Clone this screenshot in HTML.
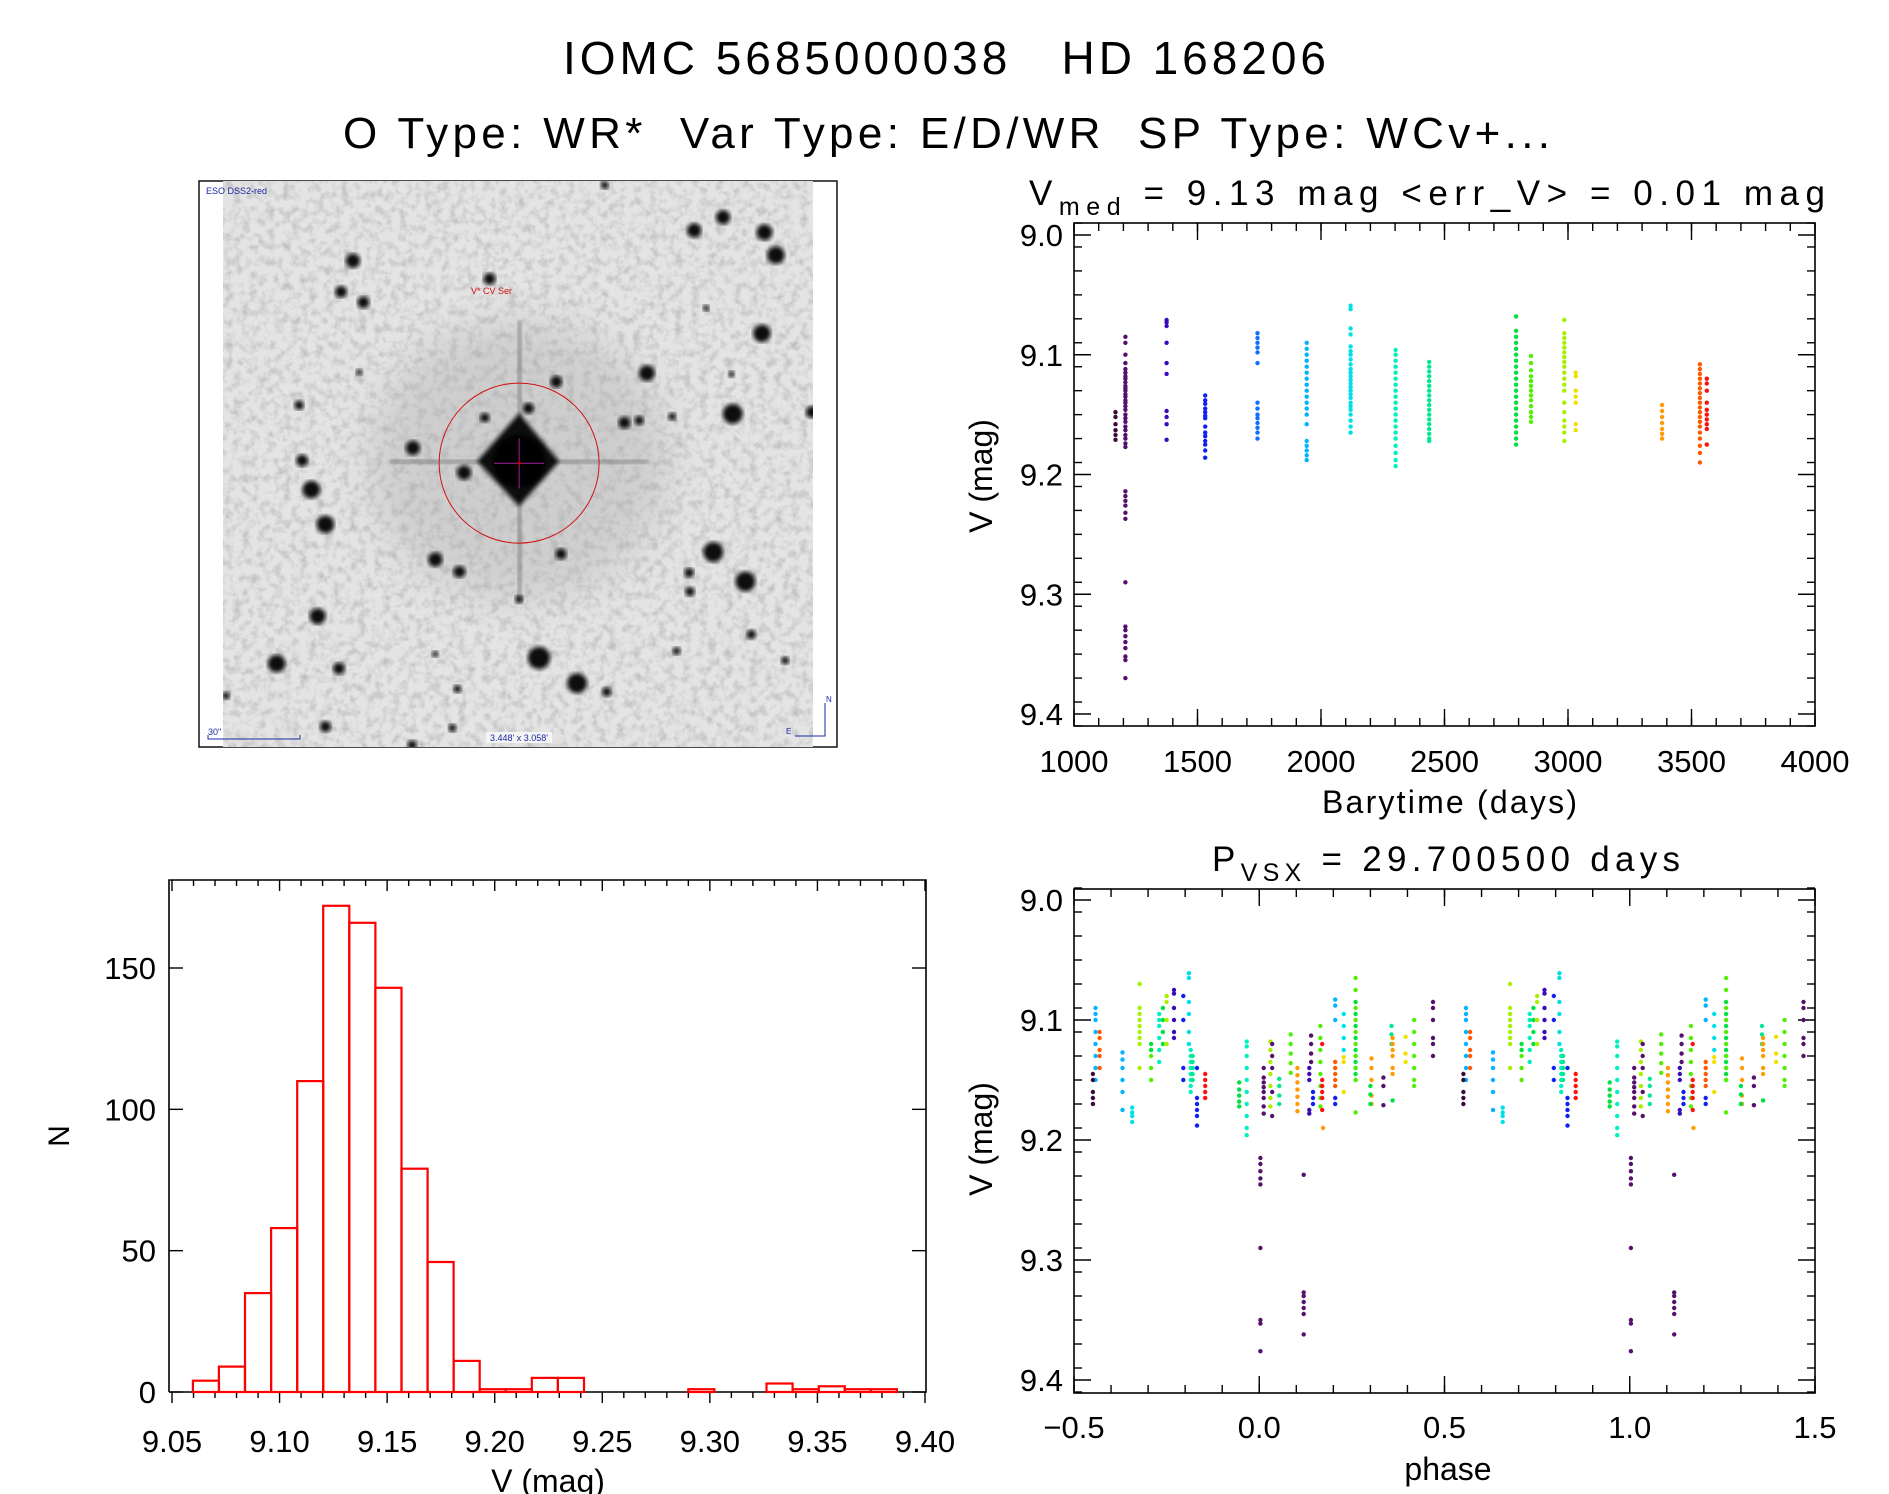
<!DOCTYPE html>
<html><head><meta charset="utf-8"><style>
html,body{margin:0;padding:0;background:#fff;}
svg{display:block;font-family:"Liberation Sans",sans-serif;}
text{white-space:pre;}
</style></head><body>
<svg id="fig" width="1889" height="1494" viewBox="0 0 1889 1494" xmlns="http://www.w3.org/2000/svg" xml:space="preserve">
<defs>
<filter id="blur2"><feGaussianBlur stdDeviation="2.2"/></filter>
<filter id="blur8"><feGaussianBlur stdDeviation="20"/></filter>
<filter id="grain"><feTurbulence type="fractalNoise" baseFrequency="0.12" numOctaves="3" seed="4"/><feColorMatrix type="matrix" values="0 0 0 0 0  0 0 0 0 0  0 0 0 0 0  0 0 0 -1.4 0.8"/></filter>
<clipPath id="imgclip"><rect x="223" y="181" width="590" height="566"/></clipPath>
</defs>
<text x="563" y="74" font-size="46" textLength="763" lengthAdjust="spacing">IOMC 5685000038   HD 168206</text>
<text x="343" y="148" font-size="44" textLength="1207" lengthAdjust="spacing">O Type: WR*  Var Type: E/D/WR  SP Type: WCv+...</text>
<g id="img"></g>
<g id="lc"></g>
<g id="hist"></g>
<g id="ph"></g>
</svg>
<script>
// ---------- light curve data ----------
const lcTimes = [1168,1208,1375,1531,1743,1942,2120,2302,2438,2790,2850,2985,3031,3381,3534,3562];
const lcMags = [
[9.148,9.152,9.158,9.163,9.167,9.171],
[9.085,9.09,9.1,9.107,9.112,9.115,9.118,9.12,9.123,9.126,9.128,9.13,9.133,9.135,9.138,9.14,9.143,9.146,9.15,9.153,9.156,9.16,9.163,9.167,9.17,9.174,9.177,9.214,9.218,9.222,9.226,9.232,9.237,9.29,9.327,9.33,9.335,9.34,9.345,9.352,9.355,9.37],
[9.071,9.073,9.076,9.09,9.107,9.116,9.147,9.152,9.158,9.171],
[9.134,9.138,9.141,9.145,9.148,9.151,9.153,9.16,9.165,9.168,9.172,9.175,9.18,9.186],
[9.082,9.086,9.09,9.094,9.098,9.107,9.14,9.145,9.15,9.153,9.157,9.161,9.165,9.17],
[9.09,9.095,9.1,9.105,9.11,9.115,9.12,9.125,9.13,9.135,9.14,9.145,9.15,9.158,9.172,9.176,9.18,9.184,9.188],
[9.059,9.062,9.078,9.083,9.093,9.097,9.1,9.104,9.108,9.112,9.115,9.118,9.121,9.124,9.127,9.13,9.133,9.136,9.14,9.143,9.146,9.15,9.155,9.16,9.165],
[9.096,9.1,9.105,9.11,9.115,9.12,9.125,9.13,9.135,9.14,9.145,9.15,9.155,9.16,9.165,9.17,9.176,9.182,9.188,9.193],
[9.106,9.11,9.114,9.118,9.122,9.126,9.13,9.134,9.138,9.142,9.146,9.15,9.154,9.158,9.162,9.166,9.17,9.172],
[9.068,9.08,9.085,9.09,9.095,9.1,9.105,9.11,9.115,9.12,9.125,9.13,9.135,9.14,9.145,9.15,9.155,9.16,9.165,9.17,9.175],
[9.101,9.107,9.113,9.118,9.122,9.126,9.13,9.134,9.138,9.143,9.148,9.152,9.156],
[9.071,9.082,9.086,9.09,9.094,9.098,9.102,9.106,9.11,9.115,9.12,9.125,9.13,9.14,9.148,9.155,9.16,9.165,9.172],
[9.115,9.118,9.13,9.135,9.14,9.158,9.163],
[9.142,9.147,9.152,9.157,9.162,9.166,9.17],
[9.108,9.112,9.116,9.12,9.124,9.128,9.132,9.136,9.14,9.144,9.148,9.152,9.156,9.16,9.165,9.17,9.176,9.182,9.19],
[9.12,9.124,9.13,9.14,9.146,9.15,9.154,9.158,9.162,9.175]
];
const lcColorIdx = [0,1,2,3,4,5,6,7,8,9,10,11,12,13,14,15];
const palette = ['#3a0a3a','#55106e','#3a0ab8','#1020f0','#1070ff','#00b4ff','#00e0e8','#00f0c0','#00e890','#00e040','#50f000','#a8f000','#f0e000','#ff9a00','#ff5a00','#ff1010'];
const lcXTicks = [1000,1500,2000,2500,3000,3500,4000];
const magTicks = [9.0,9.1,9.2,9.3,9.4];
const magTickLabels = ['9.0','9.1','9.2','9.3','9.4'];

// ---------- histogram data ----------
const histStart = 9.0597;
const histWidth = 0.01212;
const histCounts = [4,9,35,58,110,172,166,143,79,46,11,1,1,5,5,0,0,0,0,1,0,0,3,1,2,1,1];
const histXTicks = [9.05,9.10,9.15,9.20,9.25,9.30,9.35,9.40];
const histXTickLabels = ['9.05','9.10','9.15','9.20','9.25','9.30','9.35','9.40'];
const histYTicks = [0,50,100,150];

// ---------- phase data ----------
const phPhases = [0.003,0.012,0.966,0.946,0.03,0.035,0.054,0.085,0.103,0.12,0.135,0.14,0.145,0.165,0.17,0.172,0.205,0.205,0.205,0.228,0.228,0.26,0.26,0.303,0.3,0.335,0.357,0.36,0.36,0.395,0.418,0.469,0.558,0.569,0.551,0.631,0.657,0.677,0.708,0.708,0.73,0.74,0.75,0.77,0.795,0.81,0.815,0.82,0.832,0.854];
const phColorIdx = [1,1,7,9,11,1,8,10,13,1,2,1,3,10,15,13,5,14,3,6,12,9,10,13,9,1,8,13,9,12,10,1,5,14,0,5,6,11,10,9,7,9,11,2,3,6,7,8,3,15];
const phMags = [
[9.215,9.22,9.226,9.232,9.237,9.29,9.35,9.353,9.376],
[9.14,9.148,9.152,9.156,9.16,9.165,9.172,9.178],
[9.118,9.122,9.13,9.14,9.15,9.16,9.17,9.18,9.19,9.196],
[9.152,9.158,9.163,9.168,9.172],
[9.118,9.125,9.135,9.145,9.155,9.165,9.172],
[9.12,9.13,9.14,9.16,9.18],
[9.149,9.155,9.163,9.17],
[9.112,9.12,9.128,9.136,9.144],
[9.14,9.146,9.152,9.158,9.164,9.17,9.176],
[9.229,9.327,9.33,9.335,9.34,9.345,9.362],
[9.14,9.145,9.15,9.175,9.178],
[9.113,9.12,9.128,9.135],
[9.16,9.165,9.17],
[9.105,9.115,9.125,9.135,9.145,9.155,9.165,9.172],
[9.12,9.15,9.155,9.16,9.165,9.175],
[9.19],
[9.083,9.088,9.1],
[9.135,9.14,9.145,9.15,9.155],
[9.165,9.17],
[9.095,9.105,9.115,9.125],
[9.131,9.135,9.16],
[9.085,9.095,9.105,9.115,9.125,9.13,9.135,9.14,9.145,9.15],
[9.065,9.075,9.09,9.1,9.11,9.12,9.13,9.14,9.15,9.177],
[9.132,9.14,9.15,9.163,9.17],
[9.155,9.162,9.17],
[9.148,9.155,9.171],
[9.105,9.112,9.12],
[9.115,9.12,9.125,9.13,9.14,9.145],
[9.167],
[9.114,9.128,9.135],
[9.1,9.11,9.12,9.13,9.14,9.15,9.155],
[9.085,9.09,9.1,9.115,9.12,9.13],
[9.09,9.095,9.1,9.11,9.12,9.13,9.14,9.15],
[9.11,9.115,9.125,9.13,9.14],
[9.145,9.15,9.16,9.165,9.17],
[9.127,9.133,9.14,9.15,9.16,9.175],
[9.173,9.177,9.18,9.185],
[9.07,9.09,9.095,9.1,9.105,9.11,9.115,9.12,9.14],
[9.125,9.13,9.14,9.15],
[9.12,9.125],
[9.095,9.1,9.105,9.115,9.125,9.135],
[9.09,9.1,9.11,9.12],
[9.08,9.085,9.1,9.12],
[9.075,9.078,9.09,9.1,9.11,9.115],
[9.08,9.1,9.14,9.15],
[9.061,9.065,9.085,9.095,9.11,9.12],
[9.125,9.13,9.135,9.14,9.145,9.15,9.155,9.16],
[9.13,9.135,9.14,9.145,9.15],
[9.14,9.165,9.17,9.175,9.18,9.188],
[9.145,9.15,9.155,9.16,9.165]
];
const phXTicks = [-0.5,0.0,0.5,1.0,1.5];
const phXTickLabels = ['\u22120.5','0.0','0.5','1.0','1.5'];

const NS='http://www.w3.org/2000/svg';
function mk(parent, tag, attrs, txt){
  const e=document.createElementNS(NS,tag);
  for(const k in attrs) e.setAttribute(k,attrs[k]);
  if(txt!==undefined) e.textContent=txt;
  parent.appendChild(e); return e;
}
function lin(d0,d1,r0,r1){return v=>r0+(v-d0)*(r1-r0)/(d1-d0);}

function frame(g,x0,x1,y0,y1,name){
  const r=mk(g,'rect',{x:x0,y:y0,width:x1-x0,height:y1-y0,fill:'none',stroke:'#000','stroke-width':1.6});
  
  
}
function ticks(g,orient,pos,from,to,step,len,a,b){
  const n=Math.round((to-from)/step);
  for(let i=0;i<=n;i++){
    const v=from+i*step, p=pos(v);
    if(orient==='x'){
      mk(g,'line',{x1:p,x2:p,y1:a,y2:a+len,stroke:'#000','stroke-width':1.4});
      mk(g,'line',{x1:p,x2:p,y1:b,y2:b-len,stroke:'#000','stroke-width':1.4});
    } else {
      mk(g,'line',{y1:p,y2:p,x1:a,x2:a+len,stroke:'#000','stroke-width':1.4});
      mk(g,'line',{y1:p,y2:p,x1:b,x2:b-len,stroke:'#000','stroke-width':1.4});
    }
  }
}
function dot(g,x,y,c){
  const d=mk(g,'circle',{cx:x.toFixed(1),cy:y.toFixed(1),r:2.2,fill:c});
  
  
}

// ================= light curve =================
(function(){
  const g=document.getElementById('lc');
  const X0=1074,X1=1815,Y0=223,Y1=726;
  const xs=lin(1000,4000,X0,X1), ys=lin(9.0,9.4,235,714);
  frame(g,X0,X1,Y0,Y1,'light-curve-frame');
  ticks(g,'x',xs,1000,4000,500,17,Y0,Y1);
  ticks(g,'x',xs,1000,4000,100,8,Y0,Y1);
  ticks(g,'y',ys,8.99,9.41,0.02,8,X0,X1);
  ticks(g,'y',ys,9.0,9.4,0.1,17,X0,X1);
  lcXTicks.forEach(t=>{
    const e=mk(g,'text',{x:xs(t),y:772,'font-size':31,'text-anchor':'middle'},String(t));
    
    
  });
  magTicks.forEach((t,i)=>{
    const e=mk(g,'text',{x:1063,y:ys(t)+11,'font-size':31,'text-anchor':'end'},magTickLabels[i]);
    
    
  });
  lcTimes.forEach((t,i)=>{
    lcMags[i].forEach(m=>dot(g,xs(t),ys(m),palette[lcColorIdx[i]]));
  });
  const tl=mk(g,'text',{x:1029,y:205,'font-size':35,textLength:796,lengthAdjust:'spacing'});
  tl.innerHTML='V<tspan font-size="25" dy="10">med</tspan><tspan dy="-10"> = 9.13 mag &lt;err_V&gt; = 0.01 mag</tspan>';
  
  
  const xt=mk(g,'text',{x:1322,y:813,'font-size':32,textLength:255,lengthAdjust:'spacing'},'Barytime (days)');
  
  
  const yt=mk(g,'text',{x:0,y:0,'font-size':32,'text-anchor':'middle',transform:'translate(992,476) rotate(-90)'},'V (mag)');
  
  
})();

// ================= histogram =================
(function(){
  const g=document.getElementById('hist');
  const X0=169,X1=926,Y0=880,Y1=1392;
  const xs=lin(9.05,9.40,172,925), ys=lin(0,150,1392,968);
  const ax=mk(g,'path',{d:`M${X0},${Y1} L${X0},${Y0} L${X1},${Y0} L${X1},${Y1} L${X0},${Y1}`,fill:'none',stroke:'#000','stroke-width':1.6});
  
  
  for(let i=0;i<=35;i++){
    const v=9.05+i*0.01, p=xs(v), maj=i%5===0;
    mk(g,'line',{x1:p,x2:p,y1:Y1,y2:Y1+(maj?11:6),stroke:'#000','stroke-width':1.4});
    mk(g,'line',{x1:p,x2:p,y1:Y0,y2:Y0+(maj?11:6),stroke:'#000','stroke-width':1.4});
  }
  histYTicks.forEach(t=>{
    const p=ys(t);
    mk(g,'line',{x1:X0,x2:X0+14,y1:p,y2:p,stroke:'#000','stroke-width':1.4});
    mk(g,'line',{x1:X1,x2:X1-14,y1:p,y2:p,stroke:'#000','stroke-width':1.4});
    const e=mk(g,'text',{x:156,y:p+11,'font-size':31,'text-anchor':'end'},String(t));
    
    
  });
  histXTicks.forEach((t,i)=>{
    const e=mk(g,'text',{x:xs(t),y:1452,'font-size':31,'text-anchor':'middle'},histXTickLabels[i]);
    
    
  });
  histCounts.forEach((c,i)=>{
    const a=xs(histStart+i*histWidth), b=xs(histStart+(i+1)*histWidth);
    const r=mk(g,'rect',{x:a.toFixed(1),y:ys(c).toFixed(1),width:(b-a).toFixed(1),height:(ys(0)-ys(c)).toFixed(1),fill:'none',stroke:'#ff0000','stroke-width':2.2});
    
    
  });
  const xt=mk(g,'text',{x:548,y:1492,'font-size':32,'text-anchor':'middle'},'V (mag)');
  
  
  const yt=mk(g,'text',{x:0,y:0,'font-size':30,'text-anchor':'middle',transform:'translate(69,1136) rotate(-90)'},'N');
  
  
})();

// ================= phase =================
(function(){
  const g=document.getElementById('ph');
  const X0=1074,X1=1815,Y0=889,Y1=1393;
  const xs=lin(-0.5,1.5,X0,X1), ys=lin(9.0,9.4,900,1380);
  frame(g,X0,X1,Y0,Y1,'phase-frame');
  ticks(g,'x',xs,-0.5,1.5,0.5,17,Y0,Y1);
  ticks(g,'x',xs,-0.5,1.5,0.1,8,Y0,Y1);
  ticks(g,'y',ys,8.99,9.41,0.02,8,X0,X1);
  ticks(g,'y',ys,9.0,9.4,0.1,17,X0,X1);
  phXTicks.forEach((t,i)=>{
    const e=mk(g,'text',{x:xs(t),y:1438,'font-size':31,'text-anchor':'middle'},phXTickLabels[i]);
    
    
  });
  magTicks.forEach((t,i)=>{
    const e=mk(g,'text',{x:1063,y:ys(t)+11,'font-size':31,'text-anchor':'end'},magTickLabels[i]);
    
    
  });
  phPhases.forEach((p,i)=>{
    const c=palette[phColorIdx[i]];
    const reps=[p, p<0.5 ? p+1 : p-1];
    reps.forEach(q=>{ phMags[i].forEach(m=>dot(g,xs(q),ys(m),c)); });
  });
  const tl=mk(g,'text',{x:1212,y:871,'font-size':35,textLength:468,lengthAdjust:'spacing'});
  tl.innerHTML='P<tspan font-size="25" dy="10">VSX</tspan><tspan dy="-10"> = 29.700500 days</tspan>';
  
  
  const xt=mk(g,'text',{x:1448,y:1480,'font-size':32,'text-anchor':'middle'},'phase');
  
  
  const yt=mk(g,'text',{x:0,y:0,'font-size':32,'text-anchor':'middle',transform:'translate(992,1139) rotate(-90)'},'V (mag)');
  
  
})();

// ================= star field image =================
(function(){
  const g=document.getElementById('img');
  const fr=mk(g,'rect',{x:199,y:181,width:638,height:566,fill:'#fff',stroke:'#000','stroke-width':1.4});
  
  
  const ig=mk(g,'g',{'clip-path':'url(#imgclip)'});
  mk(ig,'rect',{x:223,y:181,width:590,height:566,fill:'#e4e4e4'});
  mk(ig,'rect',{x:223,y:181,width:590,height:566,fill:'#000',filter:'url(#grain)',opacity:0.25});
  const zx=v=>190+v/2.364, zy=v=>170+v/2.644;
  const cx=zx(778), cy=zy(770);
  mk(ig,'ellipse',{cx:cx,cy:cy,rx:150,ry:140,fill:'#a8a8a8',opacity:0.35,filter:'url(#blur8)'});
  mk(ig,'rect',{x:cx-130,y:cy-1.5,width:260,height:4,fill:'#666',opacity:0.6,filter:'url(#blur2)'});
  mk(ig,'rect',{x:cx-1.5,y:cy-140,width:4,height:280,fill:'#666',opacity:0.6,filter:'url(#blur2)'});
  mk(ig,'path',{d:`M${cx},${cy-48} L${cx+40},${cy} L${cx},${cy+45} L${cx-42},${cy} Z`,fill:'#111',filter:'url(#blur2)'});
  mk(ig,'circle',{cx:cx,cy:cy,r:26,fill:'#000',filter:'url(#blur2)'});
  const stars=[[385,240,18],[357,322,15],[410,350,15],[708,288,15],[1192,160,18],[1260,125,18],[1358,165,20],[1385,225,22],[1352,432,22],[1080,537,20],[866,560,15],[1283,645,25],[1027,668,15],[1062,662,12],[1140,652,10],[1470,640,15],[258,622,12],[265,768,15],[287,845,22],[320,937,22],[527,735,18],[697,655,12],[648,800,18],[800,630,14],[580,1030,18],[637,1062,15],[877,1015,14],[1237,1010,25],[1313,1088,25],[1180,1065,12],[1182,1115,12],[1327,1228,12],[302,1180,20],[205,1305,22],[352,1318,15],[825,1290,28],[915,1357,25],[985,1380,12],[632,1372,10],[320,1472,14],[85,1390,10],[1407,1297,10],[1150,1272,10],[778,1135,10],[580,1280,8],[620,1475,10],[525,1520,12],[980,40,10],[400,535,8],[1220,365,8],[1280,540,8]];
  stars.forEach(s=>{
    const c=mk(ig,'circle',{cx:zx(s[0]).toFixed(1),cy:zy(s[1]).toFixed(1),r:(s[2]/2.5).toFixed(1),fill:'#0a0a0a',filter:'url(#blur2)'});
    
    
  });
  const rc=mk(g,'circle',{cx:cx,cy:zy(775),r:80,fill:'none',stroke:'#d01010','stroke-width':1});
  
  
  mk(g,'line',{x1:cx-25,x2:cx+25,y1:cy+2,y2:cy+2,stroke:'#a020a0','stroke-width':1});
  mk(g,'line',{x1:cx,x2:cx,y1:cy-23,y2:cy+27,stroke:'#a020a0','stroke-width':1});
  mk(g,'text',{x:cx,y:cy+6,'font-size':12,fill:'#e00','text-anchor':'middle'},'+');
  const t1=mk(g,'text',{x:206,y:194,'font-size':9,fill:'#1a2aa0'},'ESO DSS2-red');
  
  
  const t2=mk(g,'text',{x:471,y:294,'font-size':9,fill:'#d01010'},'V* CV Ser');
  
  
  mk(g,'path',{d:'M208,735 L208,739 L300,739 L300,735',fill:'none',stroke:'#1a2aa0','stroke-width':1});
  const t3=mk(g,'text',{x:208,y:735,'font-size':9,fill:'#1a2aa0'},'30"');
  
  
  mk(g,'rect',{x:486,y:732,width:66,height:11,fill:'#f4f4f4'});
  const t4=mk(g,'text',{x:519,y:741,'font-size':9,fill:'#1a2aa0','text-anchor':'middle'},"3.448' x 3.058'");
  
  
  mk(g,'path',{d:'M795,736 L825,736 L825,703',fill:'none',stroke:'#1a2aa0','stroke-width':1});
  mk(g,'text',{x:826,y:702,'font-size':8,fill:'#1a2aa0'},'N');
  mk(g,'text',{x:786,y:734,'font-size':8,fill:'#1a2aa0'},'E');
})();
</script>
</body></html>
